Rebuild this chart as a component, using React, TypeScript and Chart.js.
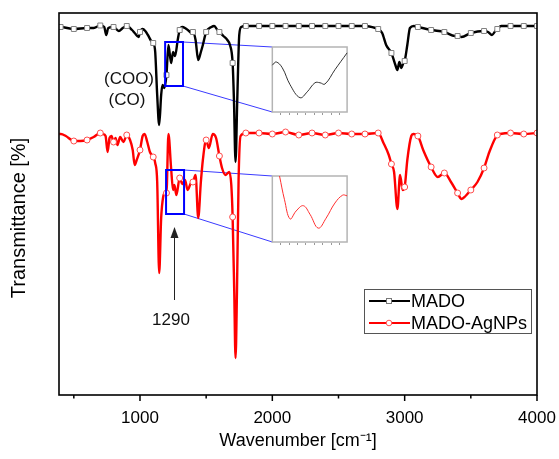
import React, { useEffect, useRef } from "react";
import { Chart, registerables } from "chart.js";

Chart.register(...registerables);

const FONT = '"Liberation Sans", Arial, Helvetica, sans-serif';

// ---------- data ----------
const seriesLabels = ["MADO", "MADO-AgNPs"];
const yAxisTitle = "Transmittance [%]";
const xAxisTitle = "Wavenumber [cm\u207B\u00B9]";
const xMajorTicks = [1000, 2000, 3000, 4000];
const xMinorTicks = [500, 1500, 2500, 3500];

const madoWn = [390, 400, 500, 600, 650, 700, 730, 745, 760, 800, 840, 870, 900, 940, 960, 990, 1000, 1020, 1040, 1060, 1090, 1100, 1115, 1130, 1145, 1160, 1170, 1185, 1200, 1215, 1235, 1250, 1265, 1285, 1300, 1320, 1340, 1370, 1390, 1400, 1420, 1440, 1460, 1475, 1500, 1540, 1560, 1590, 1600, 1630, 1660, 1680, 1700, 1710, 1722, 1735, 1750, 1765, 1800, 1900, 2000, 2100, 2200, 2300, 2400, 2500, 2600, 2700, 2780, 2800, 2830, 2860, 2900, 2930, 2945, 2960, 2975, 2990, 3000, 3020, 3040, 3070, 3100, 3200, 3300, 3380, 3400, 3430, 3500, 3600, 3630, 3660, 3690, 3700, 3730, 3800, 3900, 4000];
const madoT = [368, 368, 366, 367, 367, 369.5, 368, 360, 367, 368, 364, 367, 369, 365, 362, 358, 363, 366, 364, 360, 353, 352, 343, 300, 270, 300, 310, 307, 320, 350, 332, 343, 339, 355, 365, 368, 367, 364, 362, 363, 355, 335, 343, 350, 363, 368, 369, 364, 363, 359, 355, 350, 332, 295, 233, 295, 360, 368, 369, 369, 369, 369, 369, 369, 369, 369, 369, 369, 367, 366, 362, 350, 342, 330, 325, 333, 327, 332, 334, 350, 367, 369, 368, 365, 363, 359, 359, 358, 362, 364, 363, 360, 365, 366, 369, 369, 369, 369];

const agWn = [390, 402, 440, 500, 550, 600, 650, 700, 720, 740, 755, 770, 785, 800, 815, 830, 850, 875, 900, 925, 945, 960, 975, 1000, 1020, 1035, 1055, 1075, 1100, 1115, 1130, 1145, 1160, 1175, 1190, 1200, 1215, 1235, 1250, 1260, 1275, 1300, 1320, 1340, 1360, 1385, 1400, 1420, 1440, 1460, 1475, 1500, 1520, 1550, 1575, 1600, 1620, 1645, 1675, 1690, 1700, 1712, 1722, 1733, 1745, 1760, 1800, 1900, 2000, 2100, 2200, 2300, 2400, 2500, 2600, 2700, 2800, 2840, 2880, 2900, 2920, 2945, 2965, 2985, 3000, 3020, 3050, 3065, 3100, 3140, 3200, 3250, 3300, 3350, 3400, 3430, 3460, 3500, 3550, 3600, 3640, 3700, 3720, 3800, 3900, 4000];
const agT = [261, 261, 259, 254, 254, 255, 258, 262, 261, 259, 243, 257, 259, 253, 257, 250, 258, 253, 260, 255, 245, 230, 235, 245, 259, 261, 253, 243, 238, 232, 213, 122, 177, 198, 202, 202, 261, 227, 205, 210, 200, 217, 211, 215, 205, 212, 213, 220, 177, 213, 235, 255, 247, 261, 257, 239, 227, 220, 223, 210, 178, 105, 37, 105, 215, 259, 262, 262, 261, 263, 260, 262, 260, 262, 261, 261, 262, 252, 240, 231, 223, 186, 220, 205, 208, 235, 259, 261, 259, 245, 228, 218, 222, 213, 202, 196, 199, 205, 213, 227, 243, 260, 261, 262, 261, 262];

// zoomed insets (x: wavenumber inside blue window, y: relative level 0..100)
const inset1Wn = [1190, 1197, 1208, 1222, 1240, 1253, 1267, 1276, 1285, 1303, 1325];
const inset1T = [72, 77, 68, 42, 22, 31, 45, 45, 43, 65, 91];
const inset2Wn = [1203, 1212, 1222, 1233, 1246, 1258, 1273, 1287, 1303, 1317, 1325];
const inset2T = [100, 64, 35, 47, 55, 42, 21, 36, 59, 71, 70];

// ---------- layout (main data coordinates) ----------
const X_MIN = 388, X_MAX = 4000, Y_MIN = 0, Y_MAX = 382;
const ZOOM_X0 = 1190, ZOOM_X1 = 1325;
const zoomRects = [
  { x0: 1190, x1: 1325, y0: 309, y1: 353 },
  { x0: 1197, x1: 1333, y0: 181, y1: 225 },
];
const insetBoxes = [
  { x0: 2000, x1: 2565, y0: 283, y1: 348 },
  { x0: 2000, x1: 2565, y0: 153, y1: 219 },
];

function insetXRange(b: any) {
  const k = (ZOOM_X1 - ZOOM_X0) / (b.x1 - b.x0);
  return { min: ZOOM_X0 + (X_MIN - b.x0) * k, max: ZOOM_X0 + (X_MAX - b.x0) * k };
}
function insetYRange(b: any) {
  const k = 100 / (b.y1 - b.y0);
  return { min: (Y_MIN - b.y0) * k, max: (Y_MAX - b.y0) * k };
}

const decor = {
  id: "decor",
  beforeDatasetsDraw(chart: any) {
    const { ctx, scales } = chart;
    const x = scales.x, y = scales.y;
    ctx.save();
    insetBoxes.forEach((b, i) => {
      const l = x.getPixelForValue(b.x0), r = x.getPixelForValue(b.x1);
      const t = y.getPixelForValue(b.y1), bt = y.getPixelForValue(b.y0);
      const z = zoomRects[i];
      ctx.strokeStyle = "#3a3aff";
      ctx.lineWidth = 1;
      ctx.beginPath();
      ctx.moveTo(x.getPixelForValue(z.x1), y.getPixelForValue(z.y1));
      ctx.lineTo(l, t);
      ctx.moveTo(x.getPixelForValue(z.x1), y.getPixelForValue(z.y0));
      ctx.lineTo(l, bt);
      ctx.stroke();
      ctx.fillStyle = "#fff";
      ctx.fillRect(l, t, r - l, bt - t);
      ctx.strokeStyle = "#b4b4b4";
      ctx.lineWidth = 1.5;
      ctx.strokeRect(l, t, r - l, bt - t);
      ctx.lineWidth = 1;
      ctx.strokeStyle = "#999";
      ctx.beginPath();
      for (let k = 1; k <= 8; k++) {
        const tx = Math.round(l + 8 + (k - 1) * ((r - l - 12) / 7.5)) + 0.5;
        ctx.moveTo(tx, bt + 1);
        ctx.lineTo(tx, bt + 3);
      }
      ctx.stroke();
    });
    ctx.restore();
  },
  afterDatasetsDraw(chart: any) {
    const { ctx, scales, chartArea: a } = chart;
    const x = scales.x, y = scales.y;
    ctx.save();
    ctx.strokeStyle = "#0000ff";
    ctx.lineWidth = 2;
    zoomRects.forEach((z) => {
      const l = x.getPixelForValue(z.x0), r = x.getPixelForValue(z.x1);
      const t = y.getPixelForValue(z.y1), b = y.getPixelForValue(z.y0);
      ctx.strokeRect(l, t, r - l, b - t);
    });
    // arrow
    const ax = Math.round(x.getPixelForValue(1257)) + 0.5;
    const ay0 = y.getPixelForValue(95), ay1 = y.getPixelForValue(168);
    ctx.strokeStyle = "#222";
    ctx.fillStyle = "#222";
    ctx.lineWidth = 1;
    ctx.beginPath();
    ctx.moveTo(ax, ay0);
    ctx.lineTo(ax, ay1 + 8);
    ctx.stroke();
    ctx.beginPath();
    ctx.moveTo(ax, ay1);
    ctx.lineTo(ax - 4, ay1 + 11);
    ctx.lineTo(ax + 4, ay1 + 11);
    ctx.closePath();
    ctx.fill();
    // text labels
    ctx.fillStyle = "#111";
    ctx.font = `17px ${FONT}`;
    ctx.textAlign = "center";
    ctx.textBaseline = "middle";
    ctx.fillText("1290", x.getPixelForValue(1234), y.getPixelForValue(75));
    ctx.fillText("(COO)", x.getPixelForValue(917), y.getPixelForValue(316));
    ctx.fillText("(CO)", x.getPixelForValue(902), y.getPixelForValue(295));
    // y-axis title
    ctx.save();
    ctx.translate(19, y.getPixelForValue(177));
    ctx.rotate(-Math.PI / 2);
    ctx.fillStyle = "#000";
    ctx.font = `20px ${FONT}`;
    ctx.textAlign = "center";
    ctx.textBaseline = "middle";
    ctx.fillText(yAxisTitle, 0, 0);
    ctx.restore();
    // major + minor ticks
    ctx.strokeStyle = "#000";
    ctx.lineWidth = 1.5;
    ctx.beginPath();
    xMajorTicks.forEach((v) => {
      const px = x.getPixelForValue(v);
      ctx.moveTo(px, a.bottom);
      ctx.lineTo(px, a.bottom + 6);
    });
    xMinorTicks.forEach((v) => {
      const px = x.getPixelForValue(v);
      ctx.moveTo(px, a.bottom);
      ctx.lineTo(px, a.bottom + 3.5);
    });
    ctx.stroke();
    // frame
    ctx.lineWidth = 1.6;
    ctx.strokeStyle = "#000";
    ctx.strokeRect(a.left, a.top, a.right - a.left, a.bottom - a.top);
    // legend
    const lx0 = a.right - 173, lx1 = a.right - 6, ly0 = a.bottom - 106, ly1 = a.bottom - 62;
    ctx.fillStyle = "#fff";
    ctx.fillRect(lx0, ly0, lx1 - lx0, ly1 - ly0);
    ctx.strokeStyle = "#555";
    ctx.lineWidth = 1;
    ctx.strokeRect(lx0 + 0.5, ly0 + 0.5, lx1 - lx0, ly1 - ly0);
    const entries = [
      { label: seriesLabels[0], color: "#000", mk: "#777", rect: true, yy: ly0 + 12 },
      { label: seriesLabels[1], color: "#ff0000", mk: "#ff5555", rect: false, yy: ly0 + 34 },
    ];
    entries.forEach((e) => {
      ctx.strokeStyle = e.color;
      ctx.lineWidth = 2.2;
      ctx.beginPath();
      ctx.moveTo(lx0 + 5, e.yy);
      ctx.lineTo(lx0 + 46, e.yy);
      ctx.stroke();
      ctx.fillStyle = "#fff";
      ctx.strokeStyle = e.mk;
      ctx.lineWidth = 1;
      const cx = lx0 + 25;
      if (e.rect) {
        ctx.fillRect(cx - 2.5, e.yy - 2.5, 5, 5);
        ctx.strokeRect(cx - 2.5, e.yy - 2.5, 5, 5);
      } else {
        ctx.beginPath();
        ctx.arc(cx, e.yy, 2.8, 0, Math.PI * 2);
        ctx.fill();
        ctx.stroke();
      }
      ctx.fillStyle = "#000";
      ctx.font = `18px ${FONT}`;
      ctx.textAlign = "left";
      ctx.textBaseline = "middle";
      ctx.fillText(e.label, lx0 + 47, e.yy + 1);
    });
    ctx.restore();
  },
};

const markerRadius = (ctx: any) => {
  const v = ctx.raw && ctx.raw.x;
  return v !== undefined && v % 100 === 0 ? 3 : 0;
};

export default function App() {
  const ref = useRef<HTMLCanvasElement | null>(null);
  useEffect(() => {
    if (!ref.current) return;
    const xi1 = insetXRange(insetBoxes[0]);
    const xi2 = insetXRange(insetBoxes[1]);
    const yi1 = insetYRange(insetBoxes[0]);
    const yi2 = insetYRange(insetBoxes[1]);
    const chart = new Chart(ref.current, {
      type: "line",
      data: {
        datasets: [
          {
            label: seriesLabels[0],
            data: madoWn.map((w, i) => ({ x: w, y: madoT[i] })),
            borderColor: "#000",
            borderWidth: 2.4,
            cubicInterpolationMode: "monotone",
            pointStyle: "rect",
            pointRadius: (c: any) => (markerRadius(c) ? 3.5 : 0),
            pointBackgroundColor: "#fff",
            pointBorderColor: "#808080",
            pointBorderWidth: 1,
            xAxisID: "x",
            yAxisID: "y",
          },
          {
            label: seriesLabels[1],
            data: agWn.map((w, i) => ({ x: w, y: agT[i] })),
            borderColor: "#ff0000",
            borderWidth: 2.4,
            cubicInterpolationMode: "monotone",
            pointStyle: "circle",
            pointRadius: markerRadius,
            pointBackgroundColor: "#fff",
            pointBorderColor: "#ff4d4d",
            pointBorderWidth: 1,
            xAxisID: "x",
            yAxisID: "y",
          },
          {
            label: "inset1",
            data: inset1Wn.map((w, i) => ({ x: w, y: inset1T[i] })),
            borderColor: "#333",
            borderWidth: 1,
            tension: 0.4,
            pointRadius: 0,
            xAxisID: "xi1",
            yAxisID: "yi1",
          },
          {
            label: "inset2",
            data: inset2Wn.map((w, i) => ({ x: w, y: inset2T[i] })),
            borderColor: "#ff3030",
            borderWidth: 1,
            tension: 0.4,
            pointRadius: 0,
            xAxisID: "xi2",
            yAxisID: "yi2",
          },
        ],
      },
      options: {
        animation: false,
        responsive: false,
        devicePixelRatio: 1,
        layout: { padding: { top: 13, right: 22, left: 0, bottom: 0 } },
        plugins: { legend: { display: false }, tooltip: { enabled: false } },
        scales: {
          x: {
            type: "linear",
            position: "bottom",
            min: X_MIN,
            max: X_MAX,
            afterBuildTicks: (s: any) => {
              s.ticks = xMajorTicks.map((v) => ({ value: v }));
            },
            afterFit: (s: any) => {
              s.height = 64;
              s.paddingLeft = 0;
              s.paddingRight = 0;
            },
            ticks: {
              color: "#000",
              font: { family: FONT, size: 17 },
              padding: 3,
              maxRotation: 0,
              callback: (v: any) => String(v),
            },
            grid: {
              display: true,
              drawOnChartArea: false,
              drawTicks: true,
              tickLength: 10,
              tickColor: "rgba(0,0,0,0)",
              tickWidth: 1,
            },
            border: { display: false },
            title: {
              display: true,
              text: xAxisTitle,
              color: "#000",
              font: { family: FONT, size: 18 },
              padding: { top: 0, bottom: 7 },
            },
          },
          y: {
            type: "linear",
            position: "left",
            min: Y_MIN,
            max: Y_MAX,
            afterFit: (s: any) => {
              s.width = 59;
            },
            ticks: { display: false },
            grid: { display: false, drawTicks: false },
            border: { display: false },
            title: { display: false },
          },
          xi1: { type: "linear", display: false, min: xi1.min, max: xi1.max },
          xi2: { type: "linear", display: false, min: xi2.min, max: xi2.max },
          yi1: { type: "linear", display: false, min: yi1.min, max: yi1.max },
          yi2: { type: "linear", display: false, min: yi2.min, max: yi2.max },
        },
      } as any,
      plugins: [decor],
    });
    return () => chart.destroy();
  }, []);
  return (
    <div style={{ position: "absolute", left: 0, top: 0, width: 559, height: 459, background: "#fff" }}>
      <canvas ref={ref} width={559} height={459} style={{ display: "block" }} />
    </div>
  );
}
